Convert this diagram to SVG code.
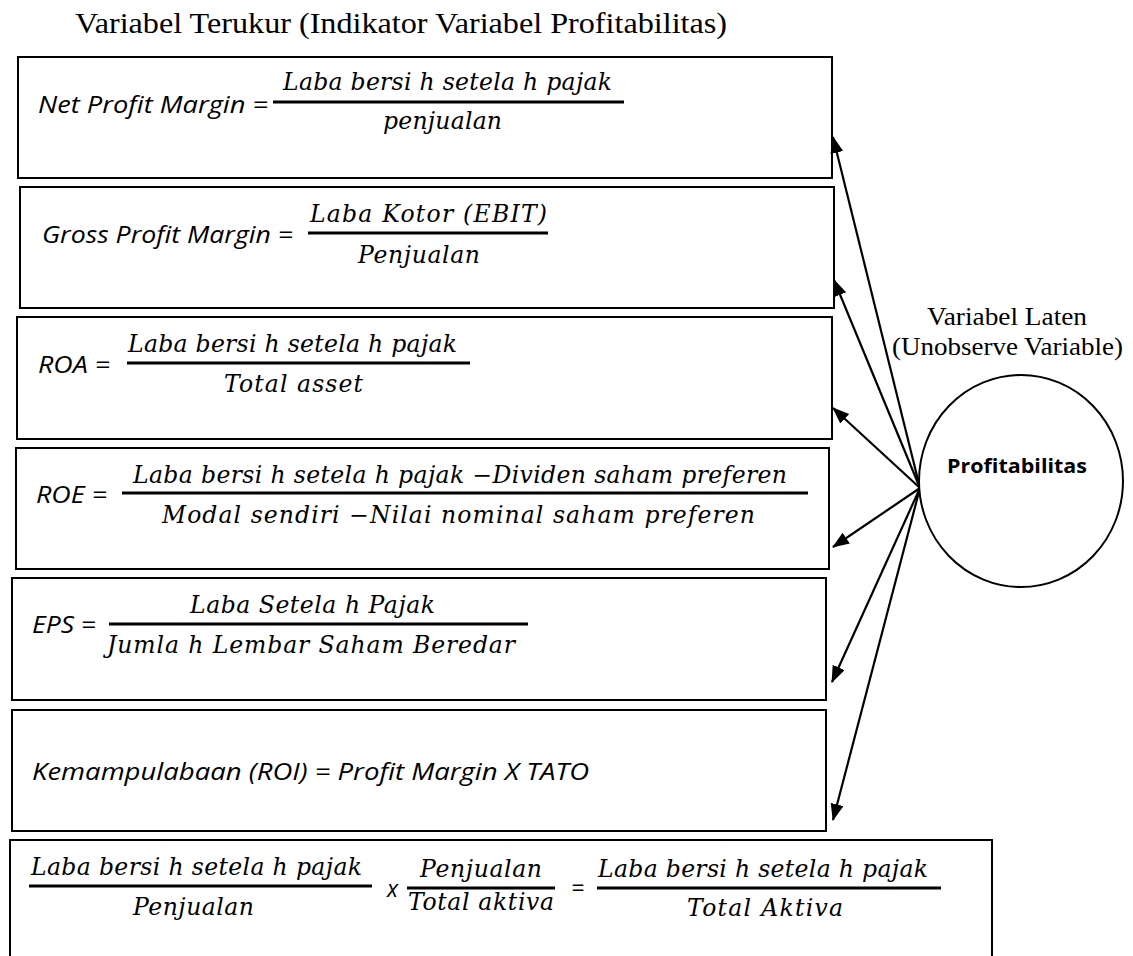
<svg xmlns="http://www.w3.org/2000/svg" width="1133" height="956" viewBox="0 0 1133 956">
<style>
.box{fill:#fff;stroke:#000;stroke-width:2}
.lbl{font-family:"Open Sans","Liberation Sans",Arial,sans-serif;font-style:italic;font-size:23px;fill:#000}
.m{font-family:"DejaVu Serif","Liberation Serif",serif;font-style:italic;font-size:23.5px;fill:#000}
.fl{stroke:#000;stroke-width:3}
.ser{font-family:"Liberation Serif","Times New Roman",serif;fill:#000}
.con{stroke:#000;stroke-width:2.2;fill:none;marker-end:url(#ah)}
</style>
<defs>
<marker id="ah" markerUnits="userSpaceOnUse" markerWidth="18" markerHeight="14" refX="16" refY="6.5" orient="auto">
<path d="M0,0 L17,6.5 L0,13 Z" fill="#000"/>
</marker>
</defs>
<rect width="1133" height="956" fill="#fff"/>
<text class="ser" x="75" y="33" font-size="30" textLength="652" lengthAdjust="spacingAndGlyphs">Variabel Terukur (Indikator Variabel Profitabilitas)</text>

<g id="npm">
<rect class="box" x="18" y="57" width="814" height="121"/>
<text class="lbl" x="38" y="113" textLength="230" lengthAdjust="spacingAndGlyphs">Net Profit Margin =</text>
<text class="m" x="283" y="90" textLength="329">Laba  bersi h setela h pajak</text>
<line class="fl" x1="273" y1="102" x2="624" y2="102"/>
<text class="m" x="383" y="129" textLength="119">penjualan</text>
</g>

<g id="gpm">
<rect class="box" x="20" y="187" width="814" height="121"/>
<text class="lbl" x="42" y="243" textLength="251" lengthAdjust="spacingAndGlyphs">Gross Profit Margin =</text>
<text class="m" x="310" y="222" textLength="237">Laba  Kotor  (EBIT)</text>
<line class="fl" x1="308" y1="233" x2="548" y2="233"/>
<text class="m" x="358" y="263" textLength="122">Penjualan</text>
</g>

<g id="roa">
<rect class="box" x="17" y="317" width="815" height="122"/>
<text class="lbl" x="38" y="373" textLength="72" lengthAdjust="spacingAndGlyphs">ROA =</text>
<text class="m" x="128" y="352" textLength="329">Laba  bersi h setela h pajak</text>
<line class="fl" x1="127" y1="363" x2="470" y2="363"/>
<text class="m" x="224" y="392" textLength="139">Total  asset</text>
</g>

<g id="roe">
<rect class="box" x="16" y="448" width="813" height="121"/>
<text class="lbl" x="36" y="503" textLength="71" lengthAdjust="spacingAndGlyphs">ROE =</text>
<text class="m" x="133" y="483" textLength="654">Laba  bersi h setela h pajak −Dividen  saham  preferen</text>
<line class="fl" x1="122" y1="493" x2="808" y2="493"/>
<text class="m" x="162" y="523" textLength="593">Modal  sendiri −Nilai nominal  saham  preferen</text>
</g>

<g id="eps">
<rect class="box" x="12" y="578" width="814" height="122"/>
<text class="lbl" x="32" y="633" textLength="64" lengthAdjust="spacingAndGlyphs">EPS =</text>
<text class="m" x="190" y="613" textLength="245">Laba  Setela h Pajak</text>
<line class="fl" x1="109" y1="624" x2="528" y2="624"/>
<text class="m" x="107" y="653" textLength="408">Jumla h Lembar  Saham  Beredar</text>
</g>

<g id="roi">
<rect class="box" x="12" y="710" width="814" height="121"/>
<text class="lbl" x="32" y="780" textLength="557" lengthAdjust="spacingAndGlyphs">Kemampulabaan (ROI) =  Profit Margin X TATO</text>
</g>

<g id="roi-formula">
<path class="box" d="M10,960 V840 H992 V960" fill="#fff"/>
<text class="m" x="31" y="875" textLength="331">Laba  bersi h setela h pajak</text>
<line class="fl" x1="29" y1="886" x2="372" y2="886"/>
<text class="m" x="133" y="915" textLength="121">Penjualan</text>
<text class="lbl" x="387" y="897">x</text>
<text class="m" x="420" y="877" textLength="122">Penjualan</text>
<line class="fl" x1="407" y1="888" x2="555" y2="888"/>
<text class="m" x="408" y="910" textLength="146">Total aktiva</text>
<text class="lbl" x="571" y="896" font-size="20">=</text>
<text class="m" x="598" y="877" textLength="330">Laba  bersi h setela h pajak</text>
<line class="fl" x1="597" y1="888" x2="941" y2="888"/>
<text class="m" x="687" y="916" textLength="156">Total  Aktiva</text>
</g>

<g id="laten-label">
<text class="ser" x="1007" y="325" font-size="26" text-anchor="middle" textLength="160" lengthAdjust="spacingAndGlyphs">Variabel Laten</text>
<text class="ser" x="1007.5" y="355" font-size="26" text-anchor="middle" textLength="231" lengthAdjust="spacingAndGlyphs">(Unobserve Variable)</text>
</g>

<g id="connectors">
<line class="con" x1="920" y1="488" x2="833" y2="137"/>
<line class="con" x1="920" y1="488" x2="834" y2="280"/>
<line class="con" x1="920" y1="488" x2="833" y2="408"/>
<line class="con" x1="920" y1="488" x2="833" y2="547"/>
<line class="con" x1="920" y1="488" x2="832" y2="682"/>
<line class="con" x1="920" y1="488" x2="833" y2="820"/>
</g>

<g id="profitabilitas">
<ellipse cx="1021" cy="481" rx="102" ry="106" fill="#fff" stroke="#000" stroke-width="2"/>
<text x="1017" y="473" text-anchor="middle" font-family="Open Sans, Liberation Sans, Arial, sans-serif" font-weight="bold" font-size="20" textLength="140" lengthAdjust="spacingAndGlyphs">Profitabilitas</text>
</g>
</svg>
